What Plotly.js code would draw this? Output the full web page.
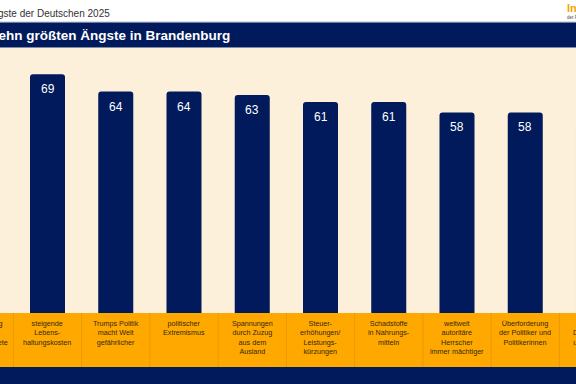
<!DOCTYPE html>
<html>
<head>
<meta charset="utf-8">
<script src="https://cdn.plot.ly/plotly-3.0.1.min.js"></script>
<style>html,body{margin:0;padding:0;background:#fff;}#chart{width:576px;height:384px;}</style>
</head>
<body>
<div id="chart"></div>
<script>
// ---- data ----
const categories = [
  'Überforderung<br>des Staates<br>durch Geflüchtete',
  'steigende<br>Lebens-<br>haltungskosten',
  'Trumps Politik<br>macht Welt<br>gefährlicher',
  'politischer<br>Extremismus',
  'Spannungen<br>durch Zuzug<br>aus dem<br>Ausland',
  'Steuer-<br>erhöhungen/<br>Leistungs-<br>kürzungen',
  'Schadstoffe<br>in Nahrungs-<br>mitteln',
  'weltweit<br>autoritäre<br>Herrscher<br>immer mächtiger',
  'Überforderung<br>der Politiker und<br>Politikerinnen',
  'Wohnen in<br>Deutschland<br>unbezahlbar'
];
const values = [72, 69, 64, 64, 63, 61, 61, 58, 58, 56];
const titleText = 'Die zehn größten Ängste in Brandenburg';
const subtitleText = 'Die Ängste der Deutschen 2025';
const logoText = 'Infocenter';
const logoSub = 'der R+V Versicherung';

// ---- layout constants ----
const W = 576, H = 384;
const plotTop = 48, plotBottom = 313;
const plotH = plotBottom - plotTop;
const xr0 = 0.30403, xr1 = 8.7436;
const py = px => (plotBottom - px) / plotH;         // pixel y -> paper y
const pxX = i => (i - xr0) / (xr1 - xr0);           // data x -> paper x

const navy = '#001a5b';
const orange = '#ffa800';
const cream = '#fdf0db';

const idx = categories.map((_, i) => i);

const trace = {
  type: 'bar',
  x: idx,
  y: values,
  width: 0.513,
  marker: {color: navy},
  hoverinfo: 'skip'
};

const shapes = [
  {type:'rect', xref:'paper', yref:'paper', x0:-0.1, x1:1.1, y0:py(22.6), y1:py(21.6), line:{width:0}, fillcolor:'#b8c0d4'},
  {type:'rect', xref:'paper', yref:'paper', x0:-0.1, x1:1.1, y0:py(47.5), y1:py(22.6), line:{width:0}, fillcolor:navy},
  {type:'rect', xref:'paper', yref:'paper', x0:-0.1, x1:1.1, y0:py(367), y1:py(313), line:{width:0}, fillcolor:orange},
  {type:'rect', xref:'paper', yref:'paper', x0:-0.1, x1:1.1, y0:py(390), y1:py(367), line:{width:0}, fillcolor:navy}
];
idx.forEach(i => {
  shapes.push({type:'line', xref:'paper', yref:'paper', x0:pxX(i+0.5), x1:pxX(i+0.5), y0:py(367), y1:py(313), line:{color:'#e99a00', width:1}});
});

const annotations = [
  {xref:'paper', yref:'paper', x:112/W, y:py(13.5), xanchor:'right', yanchor:'middle', showarrow:false,
   text:subtitleText, font:{family:'Liberation Sans, Arial, sans-serif', size:10, color:'#333333'}},
  {xref:'paper', yref:'paper', x:232/W, y:py(35), xanchor:'right', yanchor:'middle', showarrow:false,
   text:'<b>' + titleText + '</b>', font:{family:'Liberation Sans, Arial, sans-serif', size:13.5, color:'#ffffff'}},
  {xref:'paper', yref:'paper', x:565/W, y:py(8.5), xanchor:'left', yanchor:'middle', showarrow:false,
   text:'<b>' + logoText + '</b>', font:{family:'Liberation Sans, Arial, sans-serif', size:11, color:'#f5a300'}},
  {xref:'paper', yref:'paper', x:565/W, y:py(17.5), xanchor:'left', yanchor:'middle', showarrow:false,
   text:logoSub, font:{family:'Liberation Sans, Arial, sans-serif', size:4.5, color:'#444444'}}
];
values.forEach((v, i) => {
  annotations.push({xref:'x', yref:'y', x:i, y:v, yshift:-15, xanchor:'center', yanchor:'middle', showarrow:false,
    text:String(v), font:{family:'Liberation Sans, Arial, sans-serif', size:12, color:'#ffffff'}});
});
categories.forEach((c, i) => {
  annotations.push({xref:'paper', yref:'paper', x:pxX(i), y:py(316.5), xanchor:'center', yanchor:'top', showarrow:false,
    align:'center', text:c, font:{family:'Liberation Sans, Arial, sans-serif', size:7.2, color:'#33290f'}});
});

const layout = {
  width: W, height: H,
  margin: {l:0, r:0, t:plotTop, b:H - plotBottom, pad:0},
  paper_bgcolor: '#ffffff',
  plot_bgcolor: cream,
  showlegend: false,
  barcornerradius: 3,
  xaxis: {range:[xr0, xr1], showgrid:false, zeroline:false, showticklabels:false, ticks:'', fixedrange:true},
  yaxis: {range:[0, plotH/3.459], showgrid:false, zeroline:false, showticklabels:false, ticks:'', fixedrange:true},
  shapes: shapes,
  annotations: annotations
};

Plotly.newPlot('chart', [trace], layout, {staticPlot:true, displayModeBar:false});
</script>
</body>
</html>
